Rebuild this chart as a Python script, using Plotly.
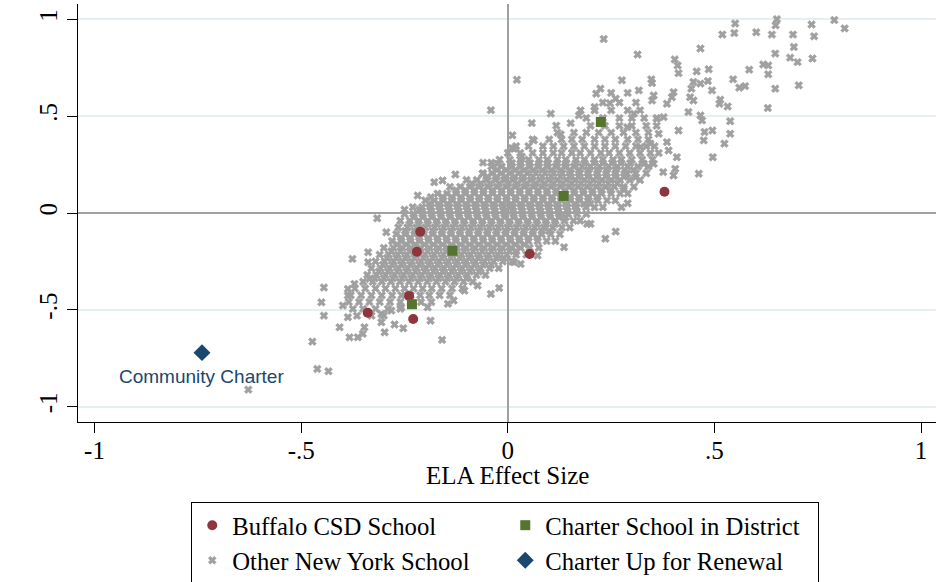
import plotly.graph_objects as go

# ---------------- data ----------------
tick_vals = [-1, -0.5, 0, 0.5, 1]
tick_text = ["-1", "-.5", "0", ".5", "1"]

# Buffalo CSD schools
buffalo_x = [-0.212, -0.220, -0.239, -0.339, -0.229, 0.053, 0.379]
buffalo_y = [-0.097, -0.200, -0.428, -0.515, -0.547, -0.212, 0.110]

# Charter schools in district
district_x = [-0.134, -0.232, 0.225, 0.135]
district_y = [-0.195, -0.471, 0.470, 0.088]

# Charter up for renewal
renewal_x = [-0.740]
renewal_y = [-0.721]
renewal_label = ["Community Charter"]

# Other New York schools: dense core read row by row (y level, x values)
core_y = [0.62, 0.57, 0.53, 0.49, 0.45, 0.415, 0.38, 0.345, 0.31, 0.275, 0.24,
          0.205, 0.17, 0.135, 0.10, 0.065, 0.03, -0.005, -0.04, -0.075, -0.11,
          -0.145, -0.18, -0.215, -0.25, -0.285, -0.32, -0.355, -0.39, -0.425,
          -0.46, -0.495, -0.53,
          0.2575, 0.2225, 0.1875, 0.1525, 0.1175, 0.0825, 0.0475, 0.0125,
          -0.0225, -0.0575, -0.0925, -0.1275, -0.1625, -0.1975, -0.2325,
          -0.2675, -0.3025, -0.3375]
core_x = [
    [0.25, 0.29],
    [0.23, 0.27, 0.31],
    [0.21, 0.25, 0.29, 0.32],
    [0.19, 0.23, 0.27, 0.30, 0.33, 0.36],
    [0.20, 0.235, 0.27, 0.30, 0.335, 0.36],
    [0.12, 0.16, 0.19, 0.22, 0.25, 0.28, 0.31, 0.34],
    [0.06, 0.10, 0.13, 0.155, 0.18, 0.21, 0.235, 0.26, 0.29, 0.315, 0.34],
    [0.02, 0.05, 0.085, 0.11, 0.135, 0.16, 0.185, 0.21, 0.235, 0.26, 0.285, 0.31, 0.335, 0.355],
    [0.00, 0.03, 0.06, 0.085, 0.11, 0.13, 0.155, 0.175, 0.2, 0.225, 0.245, 0.27, 0.295, 0.32, 0.345, 0.365],
    [-0.02, 0.005, 0.03, 0.05, 0.075, 0.095, 0.12, 0.14, 0.165, 0.185, 0.21, 0.23, 0.255, 0.275, 0.30, 0.325, 0.35],
    [-0.04, -0.015, 0.01, 0.03, 0.052, 0.073, 0.095, 0.116, 0.138, 0.16, 0.18, 0.2, 0.222, 0.244, 0.265, 0.29, 0.315, 0.34],
    [-0.06, -0.038, -0.016, 0.005, 0.026, 0.047, 0.068, 0.09, 0.111, 0.132, 0.153, 0.175, 0.196, 0.218, 0.24, 0.262, 0.285, 0.31, 0.335],
    [-0.10, -0.075, -0.052, -0.03, -0.009, 0.012, 0.034, 0.056, 0.078, 0.099, 0.12, 0.142, 0.163, 0.185, 0.207, 0.228, 0.25, 0.272, 0.295, 0.32],
    [-0.14, -0.115, -0.092, -0.07, -0.048, -0.026, -0.004, 0.018, 0.04, 0.062, 0.083, 0.105, 0.127, 0.148, 0.17, 0.192, 0.214, 0.236, 0.258, 0.28, 0.305],
    [-0.17, -0.147, -0.125, -0.103, -0.081, -0.059, -0.037, -0.015, 0.007, 0.029, 0.051, 0.073, 0.095, 0.117, 0.139, 0.161, 0.183, 0.205, 0.227, 0.25, 0.272, 0.29],
    [-0.20, -0.178, -0.156, -0.134, -0.112, -0.09, -0.068, -0.046, -0.024, -0.002, 0.02, 0.042, 0.064, 0.086, 0.108, 0.13, 0.152, 0.174, 0.196, 0.218, 0.24, 0.26],
    [-0.23, -0.207, -0.185, -0.163, -0.141, -0.119, -0.097, -0.075, -0.053, -0.031, -0.009, 0.013, 0.035, 0.057, 0.079, 0.101, 0.123, 0.145, 0.167, 0.189, 0.21, 0.23],
    [-0.25, -0.228, -0.206, -0.184, -0.162, -0.14, -0.118, -0.096, -0.074, -0.052, -0.03, -0.008, 0.014, 0.036, 0.058, 0.08, 0.102, 0.124, 0.146, 0.168, 0.19],
    [-0.26, -0.237, -0.215, -0.193, -0.171, -0.149, -0.127, -0.105, -0.083, -0.061, -0.039, -0.017, 0.005, 0.027, 0.049, 0.071, 0.093, 0.115, 0.137, 0.159, 0.175],
    [-0.265, -0.243, -0.221, -0.199, -0.177, -0.155, -0.133, -0.111, -0.089, -0.067, -0.045, -0.023, -0.001, 0.021, 0.043, 0.065, 0.087, 0.109, 0.131, 0.15],
    [-0.27, -0.248, -0.226, -0.204, -0.182, -0.16, -0.138, -0.116, -0.094, -0.072, -0.05, -0.028, -0.006, 0.016, 0.038, 0.06, 0.082, 0.104, 0.126],
    [-0.28, -0.258, -0.236, -0.214, -0.192, -0.17, -0.148, -0.126, -0.104, -0.082, -0.06, -0.038, -0.016, 0.006, 0.028, 0.05, 0.072, 0.094, 0.115],
    [-0.30, -0.277, -0.255, -0.233, -0.211, -0.189, -0.167, -0.145, -0.123, -0.101, -0.079, -0.057, -0.035, -0.013, 0.009, 0.031, 0.053, 0.075],
    [-0.31, -0.288, -0.266, -0.244, -0.222, -0.2, -0.178, -0.156, -0.134, -0.112, -0.09, -0.068, -0.046, -0.024, -0.002, 0.02, 0.045],
    [-0.32, -0.298, -0.276, -0.254, -0.232, -0.21, -0.188, -0.166, -0.144, -0.122, -0.1, -0.078, -0.056, -0.034, -0.012, 0.01],
    [-0.33, -0.308, -0.286, -0.264, -0.242, -0.22, -0.198, -0.176, -0.154, -0.132, -0.11, -0.088, -0.066, -0.044, -0.022],
    [-0.34, -0.318, -0.296, -0.274, -0.252, -0.23, -0.208, -0.186, -0.164, -0.142, -0.12, -0.098, -0.076, -0.054],
    [-0.35, -0.327, -0.305, -0.283, -0.261, -0.239, -0.217, -0.195, -0.173, -0.151, -0.129, -0.107, -0.085],
    [-0.37, -0.345, -0.32, -0.296, -0.272, -0.25, -0.228, -0.206, -0.184, -0.16, -0.135, -0.11],
    [-0.38, -0.355, -0.33, -0.305, -0.28, -0.257, -0.235, -0.212, -0.19, -0.165, -0.14],
    [-0.385, -0.36, -0.335, -0.31, -0.285, -0.26, -0.235, -0.21, -0.185],
    [-0.375, -0.35, -0.32, -0.29, -0.26],
    [-0.365, -0.33, -0.30],
    # in-between rows of the densest part
    [0.01, 0.032, 0.054, 0.076, 0.098, 0.12, 0.142, 0.164, 0.186, 0.208, 0.23, 0.252, 0.274, 0.296],
    [-0.026, -0.004, 0.018, 0.04, 0.062, 0.084, 0.106, 0.128, 0.15, 0.172, 0.194, 0.216, 0.238, 0.26, 0.282, 0.304],
    [-0.049, -0.027, -0.005, 0.017, 0.039, 0.061, 0.083, 0.105, 0.127, 0.149, 0.171, 0.193, 0.215, 0.237, 0.259, 0.281],
    [-0.087, -0.065, -0.043, -0.021, 0.001, 0.023, 0.045, 0.067, 0.089, 0.111, 0.133, 0.155, 0.177, 0.199, 0.221, 0.243, 0.265],
    [-0.125, -0.103, -0.081, -0.059, -0.037, -0.015, 0.007, 0.029, 0.051, 0.073, 0.095, 0.117, 0.139, 0.161, 0.183, 0.205, 0.227, 0.249],
    [-0.158, -0.136, -0.114, -0.092, -0.07, -0.048, -0.026, -0.004, 0.018, 0.04, 0.062, 0.084, 0.106, 0.128, 0.15, 0.172, 0.194, 0.216],
    [-0.19, -0.168, -0.146, -0.124, -0.102, -0.08, -0.058, -0.036, -0.014, 0.008, 0.03, 0.052, 0.074, 0.096, 0.118, 0.14, 0.162, 0.184, 0.2],
    [-0.21, -0.188, -0.166, -0.144, -0.122, -0.1, -0.078, -0.056, -0.034, -0.012, 0.01, 0.032, 0.054, 0.076, 0.098, 0.12, 0.142, 0.164],
    [-0.228, -0.206, -0.184, -0.162, -0.14, -0.118, -0.096, -0.074, -0.052, -0.03, -0.008, 0.014, 0.036, 0.058, 0.08, 0.102, 0.124, 0.14],
    [-0.238, -0.216, -0.194, -0.172, -0.15, -0.128, -0.106, -0.084, -0.062, -0.04, -0.018, 0.004, 0.026, 0.048, 0.07, 0.092, 0.114],
    [-0.248, -0.226, -0.204, -0.182, -0.16, -0.138, -0.116, -0.094, -0.072, -0.05, -0.028, -0.006, 0.016, 0.038, 0.06, 0.082, 0.1],
    [-0.258, -0.236, -0.214, -0.192, -0.17, -0.148, -0.126, -0.104, -0.082, -0.06, -0.038, -0.016, 0.006, 0.028, 0.05, 0.072],
    [-0.268, -0.246, -0.224, -0.202, -0.18, -0.158, -0.136, -0.114, -0.092, -0.07, -0.048, -0.026, -0.004, 0.018, 0.04],
    [-0.282, -0.26, -0.238, -0.216, -0.194, -0.172, -0.15, -0.128, -0.106, -0.084, -0.062, -0.04, -0.018, 0.004, 0.02],
    [-0.292, -0.27, -0.248, -0.226, -0.204, -0.182, -0.16, -0.138, -0.116, -0.094, -0.072, -0.05, -0.028, -0.01],
    [-0.302, -0.28, -0.258, -0.236, -0.214, -0.192, -0.17, -0.148, -0.126, -0.104, -0.082, -0.06, -0.04],
    [-0.312, -0.29, -0.268, -0.246, -0.224, -0.202, -0.18, -0.158, -0.136, -0.114, -0.092, -0.07],
    [-0.322, -0.3, -0.278, -0.256, -0.234, -0.212, -0.19, -0.168, -0.146, -0.124, -0.1],
]

# Other New York schools: scattered points read individually
sparse_x = [0.314, 0.404, 0.411, 0.413, 0.466, 0.457, 0.486, 0.519, 0.550, 0.548,
            0.601, 0.651, 0.648, 0.639, 0.690, 0.735, 0.741, 0.790, 0.815, 0.692,
            0.647, 0.683, 0.701, 0.737, 0.618, 0.630, 0.630, 0.584, 0.545, 0.560,
            0.574, 0.647, 0.704, 0.629, 0.347, 0.349, 0.317, 0.276, 0.444, 0.449,
            0.466, 0.484, 0.494, 0.441, 0.449, 0.514, 0.512, 0.532, 0.401, 0.397,
            0.353, 0.349, 0.385, 0.437, 0.466, 0.470, 0.538, 0.538, 0.524, 0.495,
            0.476, 0.474, 0.496, 0.462, 0.413, 0.409, 0.405, 0.401, 0.376, 0.365,
            0.385, 0.389, 0.377, 0.361, 0.305, 0.289, 0.321, 0.345, 0.353, 0.329,
            0.309, 0.281, 0.289,
            0.232, 0.022, -0.041, 0.058, 0.104, 0.117, 0.128, 0.152, 0.011, 0.210,
            0.214, 0.224, 0.247, 0.261, 0.176, 0.172, -0.127, -0.218, -0.186, -0.178,
            -0.158, -0.061, -0.025, 0.015, 0.063, -0.06, -0.04, 0.01, 0.034,
            -0.316, -0.294, -0.338, -0.338, -0.376, -0.445, -0.451, -0.445, -0.473, -0.461,
            -0.434, -0.407, -0.383, -0.363, -0.351, -0.347, -0.387, -0.399, -0.387, -0.387,
            -0.371, -0.335, -0.298, -0.274, -0.253, -0.187, -0.159, -0.194, -0.145, -0.131,
            -0.306, -0.306, -0.282, -0.258, -0.041, -0.021, -0.073, -0.105, 0.136, 0.192,
            0.200, 0.236, 0.261, 0.015, 0.031, 0.072, -0.250, -0.214, -0.628, 0.275, 0.29]
sparse_y = [0.818, 0.793, 0.762, 0.722, 0.849, 0.731, 0.742, 0.921, 0.978, 0.929,
            0.933, 1.000, 0.969, 0.921, 0.921, 0.973, 0.912, 0.996, 0.953, 0.857,
            0.823, 0.802, 0.779, 0.798, 0.767, 0.762, 0.716, 0.740, 0.690, 0.647,
            0.655, 0.642, 0.659, 0.542, 0.690, 0.671, 0.633, 0.685, 0.642, 0.676,
            0.668, 0.681, 0.633, 0.598, 0.581, 0.585, 0.564, 0.550, 0.624, 0.598,
            0.607, 0.581, 0.564, 0.521, 0.504, 0.478, 0.474, 0.409, 0.358, 0.426,
            0.418, 0.375, 0.288, 0.203, 0.426, 0.288, 0.228, 0.194, 0.211, 0.409,
            0.366, 0.323, 0.495, 0.487, 0.513, 0.443, 0.340, 0.358, 0.254, 0.254,
            0.185, 0.125, 0.203,
            0.898, 0.688, 0.531, 0.464, 0.513, 0.451, 0.406, 0.464, 0.401, 0.547,
            0.616, 0.642, 0.567, 0.590, 0.530, 0.504, 0.199, 0.090, 0.082, 0.159,
            0.168, 0.203, 0.254, 0.332, 0.375, 0.26, 0.26, 0.335, 0.29,
            -0.027, -0.099, -0.203, -0.254, -0.237, -0.385, -0.461, -0.530, -0.664, -0.805,
            -0.817, -0.590, -0.642, -0.642, -0.624, -0.590, -0.538, -0.478, -0.426, -0.392,
            -0.366, -0.340, -0.616, -0.576, -0.595, -0.556, -0.655, -0.487, -0.469, -0.452,
            -0.564, -0.521, -0.504, -0.487, -0.418, -0.387, -0.375, -0.401, -0.177, -0.056,
            -0.056, -0.133, -0.096, -0.254, -0.263, -0.220, 0.017, 0.017, -0.912, 0.03, 0.05]

# assemble the "other" series
other_x = list(sparse_x)
other_y = list(sparse_y)
for yv, row in zip(core_y, core_x):
    other_x.extend(row)
    other_y.extend([yv] * len(row))

# ---------------- styling ----------------
SERIF = "Liberation Serif, Times New Roman, serif"
GRAY = "#a0a0a0"
RED = "#90353b"
GREEN = "#55752f"
NAVY = "#1a476f"

fig = go.Figure()
fig.add_trace(go.Scatter(
    x=other_x, y=other_y, mode="markers", name="Other New York School",
    marker=dict(symbol="x", size=7, color=GRAY, line=dict(width=0.6, color=GRAY)),
    legendrank=3, hoverinfo="skip"))
fig.add_trace(go.Scatter(
    x=buffalo_x, y=buffalo_y, mode="markers", name="Buffalo CSD School",
    marker=dict(symbol="circle", size=10, color=RED, line=dict(width=0)),
    legendrank=1))
fig.add_trace(go.Scatter(
    x=district_x, y=district_y, mode="markers", name="Charter School in District",
    marker=dict(symbol="square", size=10, color=GREEN, line=dict(width=0)),
    legendrank=2))
fig.add_trace(go.Scatter(
    x=renewal_x, y=renewal_y, mode="markers", name="Charter Up for Renewal",
    marker=dict(symbol="diamond", size=13, color=NAVY, line=dict(width=0)),
    legendrank=4))

fig.add_annotation(
    x=renewal_x[0], y=renewal_y[0], text=renewal_label[0], showarrow=False,
    yshift=-24, xanchor="center", yanchor="middle",
    font=dict(family="Liberation Sans, Arial, sans-serif", size=19, color=NAVY))

# x-axis title as paper annotation (sits closer to the tick labels than standoff allows)
fig.add_annotation(
    xref="paper", yref="paper", x=0.5, y=-0.129, text="ELA Effect Size",
    showarrow=False, xanchor="center", yanchor="middle",
    font=dict(family=SERIF, size=25, color="black"))

fig.update_layout(
    template="none",
    width=940, height=582,
    margin=dict(l=78, r=4, t=4, b=160, pad=0, autoexpand=False),
    paper_bgcolor="white", plot_bgcolor="white",
    font=dict(family=SERIF, size=25, color="black"),
    showlegend=True,
    legend=dict(
        orientation="h", x=0.132, xanchor="left", y=-0.1905, yanchor="top",
        bordercolor="black", borderwidth=1, bgcolor="white",
        font=dict(family=SERIF, size=24.7, color="black"),
        entrywidth=268, entrywidthmode="pixels", traceorder="normal",
    ),
)

fig.update_xaxes(
    range=[-1.04, 1.036], tickvals=tick_vals, ticktext=tick_text,
    automargin=False, ticklabelstandoff=-4,
    ticks="outside", ticklen=10, tickwidth=1, tickcolor="black",
    showline=True, linecolor="black", linewidth=1, mirror=False,
    showgrid=False, zeroline=True, zerolinecolor="#a0a0a0", zerolinewidth=2,
    tickfont=dict(family=SERIF, size=25, color="black"),
)
fig.update_yaxes(
    range=[-1.079, 1.079], tickvals=tick_vals, ticktext=tick_text,
    automargin=False,
    ticks="outside", ticklen=10, tickwidth=1, tickcolor="black", tickangle=-90,
    showline=True, linecolor="black", linewidth=1, mirror=False,
    showgrid=True, gridcolor="#e6eff2", gridwidth=1.5,
    zeroline=True, zerolinecolor="#a0a0a0", zerolinewidth=2,
    tickfont=dict(family=SERIF, size=25, color="black"),
)

fig.write_html("out.html", config={"displayModeBar": False},
               post_script="document.body.style.margin='0';")
